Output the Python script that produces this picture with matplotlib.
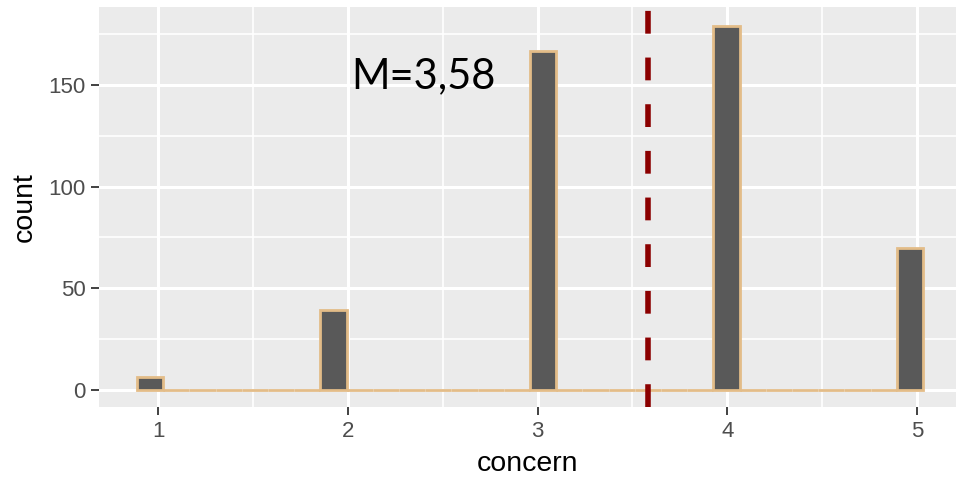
#histogram of concern scores with the mean line (ggplot look)

import numpy as np
import matplotlib.pyplot as plt
from matplotlib.ticker import MultipleLocator

# answers and how many people gave them
values = [1, 2, 3, 4, 5]
counts = [6, 39, 167, 179, 70]

# histogram bins as ggplot drew them (30 bins)
bin_lo = 0.889
bin_hi = 5.031
bin_counts = [6, 0, 0, 0, 0, 0, 0, 39, 0, 0, 0, 0, 0, 0, 0, 167,
              0, 0, 0, 0, 0, 0, 179, 0, 0, 0, 0, 0, 0, 70]

mean_text = 'M=3,58'
x_label = 'concern'
y_label = 'count'

mean = np.sum(np.array(values) * np.array(counts)) / np.sum(counts)

plt.rcParams['font.family'] = ['Liberation Sans', 'DejaVu Sans']

fig = plt.figure(figsize=(9.56, 4.78), dpi=100)
ax = fig.add_axes([99.3 / 956, 1 - 407.3 / 478, (956 - 99.3) / 956, (407.3 - 6.7) / 478])

# panel like theme_grey
ax.set_facecolor('#EBEBEB')
for s in ax.spines.values():
    s.set_visible(False)
ax.set_axisbelow(True)
ax.xaxis.set_major_locator(MultipleLocator(1))
ax.xaxis.set_minor_locator(MultipleLocator(0.5))
ax.yaxis.set_major_locator(MultipleLocator(50))
ax.yaxis.set_minor_locator(MultipleLocator(25))
ax.grid(which='major', color='white', linewidth=2.2)
ax.grid(which='minor', color='white', linewidth=1.2)

# bars
edges = np.linspace(bin_lo, bin_hi, len(bin_counts) + 1)
ax.bar(edges[:-1], bin_counts, width=np.diff(edges), align='edge',
       color='#595959', edgecolor='#E3BC88', linewidth=2.0, zorder=2)

# mean line
ax.axvline(mean, color='#8B0000', linewidth=4.0, dashes=(4.1, 4.3), zorder=3)
ax.text(2.02, 148.3, mean_text, fontsize=30, family=['Lato', 'DejaVu Sans'],
        ha='left', va='baseline', color='black', zorder=4)

ax.set_xlim(0.6907, 5.2045)
ax.set_ylim(-8.75, 188.7)

ax.tick_params(which='major', length=5.8, width=1.3, color='#333333',
               labelcolor='#4D4D4D', labelsize=16, pad=4.0)
ax.tick_params(which='minor', length=0)

ax.set_xlabel(x_label, fontsize=20.5, color='black', labelpad=6.5)
ax.set_ylabel(y_label, fontsize=20.5, color='black', labelpad=8)

fig.savefig('out.png', dpi=100)
